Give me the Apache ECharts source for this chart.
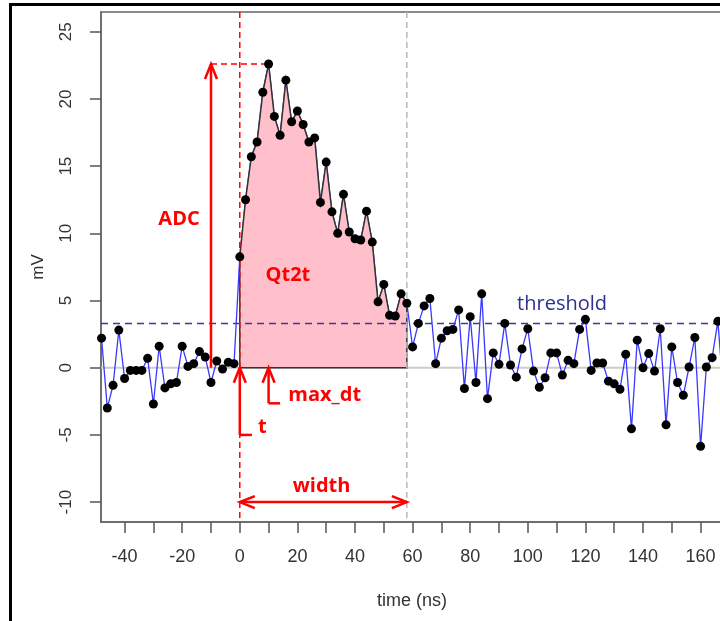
<!DOCTYPE html>
<html lang="en">
<head>
  <meta charset="utf-8">
  <title>pulse | time (ns) vs mV</title>
  <script type="text/javascript" src="https://fastly.jsdelivr.net/npm/echarts@6/dist/echarts.min.js"></script>
  <style type="text/css">
    * {
      margin: 0;
      padding: 0;
    }
    html, body {
      background: #fff;
      overflow: hidden;
    }
    /* plot box runs a little past the right edge of the window, as in the original crop */
    #chart {
      width: 730px;
      height: 621px;
    }
  </style>
</head>
<body>
  <div id="chart"></div>
  <script type="text/javascript">
    // sample times (ns), one every 2 ns
    var times = [
      -48, -46, -44, -42, -40, -38, -36, -34, -32, -30, -28, -26, -24, -22, -20, -18,
      -16, -14, -12, -10, -8, -6, -4, -2, 0, 2, 4, 6, 8, 10, 12, 14,
      16, 18, 20, 22, 24, 26, 28, 30, 32, 34, 36, 38, 40, 42, 44, 46,
      48, 50, 52, 54, 56, 58, 60, 62, 64, 66, 68, 70, 72, 74, 76, 78,
      80, 82, 84, 86, 88, 90, 92, 94, 96, 98, 100, 102, 104, 106, 108, 110,
      112, 114, 116, 118, 120, 122, 124, 126, 128, 130, 132, 134, 136, 138, 140, 142,
      144, 146, 148, 150, 152, 154, 156, 158, 160, 162, 164, 166, 168
    ];
    // amplitude (mV)
    var values = [
      2.2, -3.0, -1.3, 2.8, -0.8, -0.2, -0.2, -0.2, 0.7, -2.7, 1.6, -1.5, -1.2, -1.1, 1.6, 0.1,
      0.3, 1.2, 0.8, -1.1, 0.5, -0.1, 0.4, 0.3, 8.25, 12.5, 15.7, 16.8, 20.5, 22.6, 18.7, 17.3,
      21.4, 18.3, 19.1, 18.1, 16.8, 17.1, 12.3, 15.3, 11.6, 10.0, 12.9, 10.1, 9.6, 9.5, 11.65, 9.35,
      4.9, 6.2, 3.9, 3.85, 5.5, 4.8, 1.55, 3.3, 4.6, 5.15, 0.3, 2.2, 2.75, 2.85, 4.3, -1.55,
      3.8, -1.1, 5.5, -2.3, 1.1, 0.25, 3.3, 0.2, -0.7, 1.4, 2.9, -0.25, -1.45, -0.75, 1.1, 1.1,
      -0.55, 0.55, 0.3, 2.85, 3.6, -0.2, 0.35, 0.35, -1.0, -1.2, -1.6, 1.0, -4.55, 2.05, 0.0, 1.05,
      -0.25, 2.9, -4.25, 1.55, -1.1, -2.05, 0.05, 2.25, -5.85, 0.05, 0.75, 3.45, -2.0
    ];
    var threshold = 3.3;
    var pulseStart = 0;
    var pulseEnd = 58;
    var xTicks = [-40, -30, -20, -10, 0, 10, 20, 30, 40, 50, 60, 70, 80, 90, 100, 110, 120, 130, 140, 150, 160];
    var xLabels = [-40, -20, 0, 20, 40, 60, 80, 100, 120, 140, 160];
    var yTicks = [-10, -5, 0, 5, 10, 15, 20, 25];

    var points = times.map(function (t, i) {
      return [t, values[i]];
    });
    var peakIdx = 0;
    values.forEach(function (v, i) {
      if (v > values[peakIdx]) peakIdx = i;
    });
    var peakTime = times[peakIdx];
    var peakValue = values[peakIdx];

    var RED = '#ff0000';
    var arrowStyle = { stroke: RED, lineWidth: 2.5, fill: null };
    var labelFont = 'bold 20px "Open Sans", sans-serif';

    function seg(a, b, style) {
      return { type: 'line', shape: { x1: a[0], y1: a[1], x2: b[0], y2: b[1] }, style: style };
    }
    function head(tip, from) {
      var dx = tip[0] - from[0], dy = tip[1] - from[1];
      var len = Math.sqrt(dx * dx + dy * dy) || 1;
      var ux = dx / len, uy = dy / len;
      var bx = tip[0] - ux * 15, by = tip[1] - uy * 15;
      return {
        type: 'polyline',
        shape: { points: [[bx - uy * 6, by + ux * 6], tip, [bx + uy * 6, by - ux * 6]] },
        style: arrowStyle
      };
    }
    function label(api, pos, text, font, color) {
      var p = api.coord(pos);
      return {
        type: 'text',
        style: { x: p[0], y: p[1], text: text, font: font, fill: color, align: 'center', verticalAlign: 'middle' }
      };
    }

    // pink charge area between t and t + width
    function renderPulse(params, api) {
      var pts = [api.coord([pulseStart, 0])];
      points.forEach(function (p) {
        if (p[0] >= pulseStart && p[0] <= pulseEnd) pts.push(api.coord(p));
      });
      pts.push(api.coord([pulseEnd, 0]));
      return {
        type: 'polygon',
        shape: { points: pts },
        style: { fill: '#ffc0cb', stroke: '#333', lineWidth: 1.5 }
      };
    }

    function renderBase(params, api) {
      var cs = params.coordSys;
      var y0 = api.coord([0, 0])[1];
      return seg([cs.x, y0], [cs.x + cs.width, y0], { stroke: '#cccccc', lineWidth: 2 });
    }

    function renderNotes(params, api) {
      var cs = params.coordSys;
      var top = cs.y, bottom = cs.y + cs.height;
      var c = function (x, y) { return api.coord([x, y]); };
      var kids = [];
      var yThr = c(0, threshold)[1];
      kids.push(seg([cs.x, yThr], [cs.x + cs.width, yThr], { stroke: '#3a3a9a', lineWidth: 1.5, lineDash: [7, 5] }));
      var xs = c(pulseStart, 0)[0], xe = c(pulseEnd, 0)[0];
      kids.push(seg([xs, top], [xs, bottom], { stroke: RED, lineWidth: 1.5, lineDash: [6, 4] }));
      kids.push(seg([xe, top], [xe, bottom], { stroke: '#b8b8b8', lineWidth: 1.5, lineDash: [6, 4] }));

      // ADC arrow
      var adcX = -10;
      var a0 = c(adcX, 0), a1 = c(adcX, peakValue);
      kids.push(seg(a0, a1, arrowStyle), head(a1, a0));
      kids.push(seg(a1, c(peakTime, peakValue), { stroke: RED, lineWidth: 1.5, lineDash: [6, 4] }));

      // t marker
      var t0 = c(pulseStart, -5), t1 = c(pulseStart, 0);
      kids.push(seg(t0, t1, arrowStyle), head(t1, t0), seg(t0, c(pulseStart + 4.2, -5), arrowStyle));

      // max_dt marker
      var m0 = c(peakTime, -2.65), m1 = c(peakTime, 0);
      kids.push(seg(m0, m1, arrowStyle), head(m1, m0), seg(m0, c(peakTime + 4, -2.65), arrowStyle));

      // width arrow
      var w0 = c(pulseStart, -10), w1 = c(pulseEnd, -10);
      kids.push(seg(w0, w1, arrowStyle), head(w0, w1), head(w1, w0));

      kids.push(label(api, [-21.1, 11.06], 'ADC', labelFont, RED));
      kids.push(label(api, [16.7, 6.9], 'Qt2t', labelFont, RED));
      kids.push(label(api, [29.5, -2.05], 'max_dt', labelFont, RED));
      kids.push(label(api, [7.8, -4.4], 't', labelFont, RED));
      kids.push(label(api, [28.4, -8.8], 'width', labelFont, RED));
      kids.push(label(api, [111.9, 4.75], 'threshold', '20px "Open Sans", sans-serif', '#2f2f8f'));
      return { type: 'group', children: kids };
    }

    var axisText = { color: '#333', fontFamily: 'Liberation Sans', fontSize: 18 };

    var option = {
      animation: false,
      backgroundColor: '#fff',
      grid: {
        left: 101,
        top: 12,
        right: 7,
        bottom: 99,
        show: true,
        borderColor: '#666',
        borderWidth: 1.5
      },
      xAxis: {
        type: 'value',
        min: -48.19,
        max: 167.78,
        name: 'time (ns)',
        nameLocation: 'middle',
        nameGap: 70,
        nameTextStyle: axisText,
        axisLine: { onZero: false, lineStyle: { color: '#666', width: 1.5 } },
        axisTick: { customValues: xTicks, length: 11, lineStyle: { color: '#555', width: 1.5 } },
        axisLabel: { customValues: xLabels, margin: 26, color: '#333', fontFamily: 'Liberation Sans', fontSize: 18 },
        splitLine: { show: false }
      },
      yAxis: {
        type: 'value',
        min: -11.48,
        max: 26.47,
        name: 'mV',
        nameLocation: 'middle',
        nameGap: 54,
        nameRotate: 90,
        nameTextStyle: { color: '#333', fontFamily: 'Liberation Sans', fontSize: 17 },
        axisLine: { onZero: false, lineStyle: { color: '#666', width: 1.5 } },
        axisTick: { customValues: yTicks, length: 11, lineStyle: { color: '#555', width: 1.5 } },
        axisLabel: { customValues: yTicks, rotate: 90, margin: 26, color: '#333', fontFamily: 'Liberation Sans', fontSize: 17 },
        splitLine: { show: false }
      },
      graphic: [{
        type: 'polyline',
        shape: { points: [[10.5, 621], [10.5, 4.5], [720, 4.5]] },
        style: { stroke: '#000', lineWidth: 3, fill: null },
        z: 100
      }],
      series: [
        {
          type: 'custom', name: 'zero', z: 1, silent: true,
          data: [[0, 0]], renderItem: renderBase
        },
        {
          type: 'line', name: 'trace', z: 2, silent: true,
          data: points, showSymbol: false,
          lineStyle: { color: '#3838ff', width: 1.3 }
        },
        {
          type: 'custom', name: 'Qt2t', z: 3, silent: true,
          data: [[0, 0]], renderItem: renderPulse
        },
        {
          type: 'custom', name: 'notes', z: 4, silent: true,
          data: [[0, 0]], renderItem: renderNotes
        },
        {
          type: 'scatter', name: 'samples', z: 5, silent: true,
          data: points, symbolSize: 9,
          itemStyle: { color: '#000', opacity: 1 }
        }
      ]
    };

    var chart = echarts.init(document.getElementById('chart'));
    chart.setOption(option);
  </script>
</body>
</html>
